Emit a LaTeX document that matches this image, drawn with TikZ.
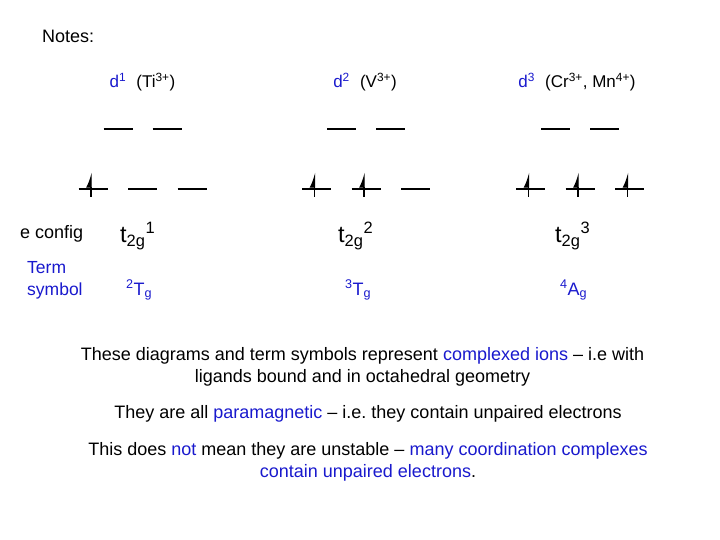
\documentclass[tikz,border=0pt]{standalone}
\usepackage{fontspec}
\setmainfont{Liberation Sans}
\usetikzlibrary{arrows.meta}
\definecolor{termblue}{RGB}{25,25,205}
\frenchspacing

\begin{document}
\begin{tikzpicture}[x=1pt,y=-1pt,
level/.style={line width=1.8pt},
spin/.style={line width=1.4pt,-{Latex[left,length=13pt,width=10pt]}},
txt/.style={anchor=base,inner sep=0pt,font=\fontsize{17}{20}\selectfont},
config/.style={anchor=base west,inner sep=0pt,font=\fontsize{23.5}{26}\selectfont},
term/.style={anchor=base west,inner sep=0pt,text=termblue,font=\fontsize{18}{22}\selectfont},
para/.style={anchor=base,inner sep=0pt,align=center,font=\fontsize{18}{22}\selectfont}]
\useasboundingbox (0,0) rectangle (720,540);
\node[txt,anchor=base west,font=\fontsize{18}{20}\selectfont] (Notes) at (42,43) {Notes:};
% ion labels
\node[txt] (dOne) at (142.5,88) {\textcolor{termblue}{d\textsuperscript{1}}\hspace{0.6em}(Ti\textsuperscript{3+})};
\node[txt] (dTwo) at (365,88) {\textcolor{termblue}{d\textsuperscript{2}}\hspace{0.6em}(V\textsuperscript{3+})};
\node[txt] (dThree) at (577,88) {\textcolor{termblue}{d\textsuperscript{3}}\hspace{0.6em}(Cr\textsuperscript{3+}, Mn\textsuperscript{4+})};
% levels: e_g above, t_2g below, with the spins
\foreach \c/\n in {142.5/1,366/2,580/3}{
  \foreach \dx in {-24.5,24.5}
    \draw[level] (\c+\dx-14.5,129) -- (\c+\dx+14.5,129);
  \foreach \dx in {-49.5,0,49.5}
    \draw[level] (\c+\dx-14.5,189) -- (\c+\dx+14.5,189);
  \foreach \k in {1,...,\n}
    \draw[spin] (\c+\k*49.5-101,197) -- (\c+\k*49.5-101,172);
}
% configurations
\node[txt,anchor=base west,font=\fontsize{18}{20}\selectfont] (eConfig) at (20,239) {e config};
\node[config] (tOne) at (120,243) {t\textsubscript{2g}\textsuperscript{1}};
\node[config] (tTwo) at (338,243) {t\textsubscript{2g}\textsuperscript{2}};
\node[config] (tThree) at (555,243) {t\textsubscript{2g}\textsuperscript{3}};
% term symbols
\node[term,align=left,font=\fontsize{17.5}{22}\selectfont] (Term) at (27,295) {Term\\symbol};
\node[term] (TOne) at (126,295) {\textsuperscript{2}T\textsubscript{g}};
\node[term] (TTwo) at (345,295) {\textsuperscript{3}T\textsubscript{g}};
\node[term] (AThree) at (560,295) {\textsuperscript{4}A\textsubscript{g}};
% notes
\node[para] (noteA) at (362.5,382) {These diagrams and term symbols represent \textcolor{termblue}{complexed ions} -- i.e with\\ligands bound and in octahedral geometry};
\node[para] (noteB) at (368,418) {They are all \textcolor{termblue}{paramagnetic} -- i.e. they contain unpaired electrons};
\node[para] (noteC) at (368,477) {This does \textcolor{termblue}{not} mean they are unstable -- \textcolor{termblue}{many coordination complexes}\\\textcolor{termblue}{contain unpaired electrons}.};
\end{tikzpicture}
\end{document}
